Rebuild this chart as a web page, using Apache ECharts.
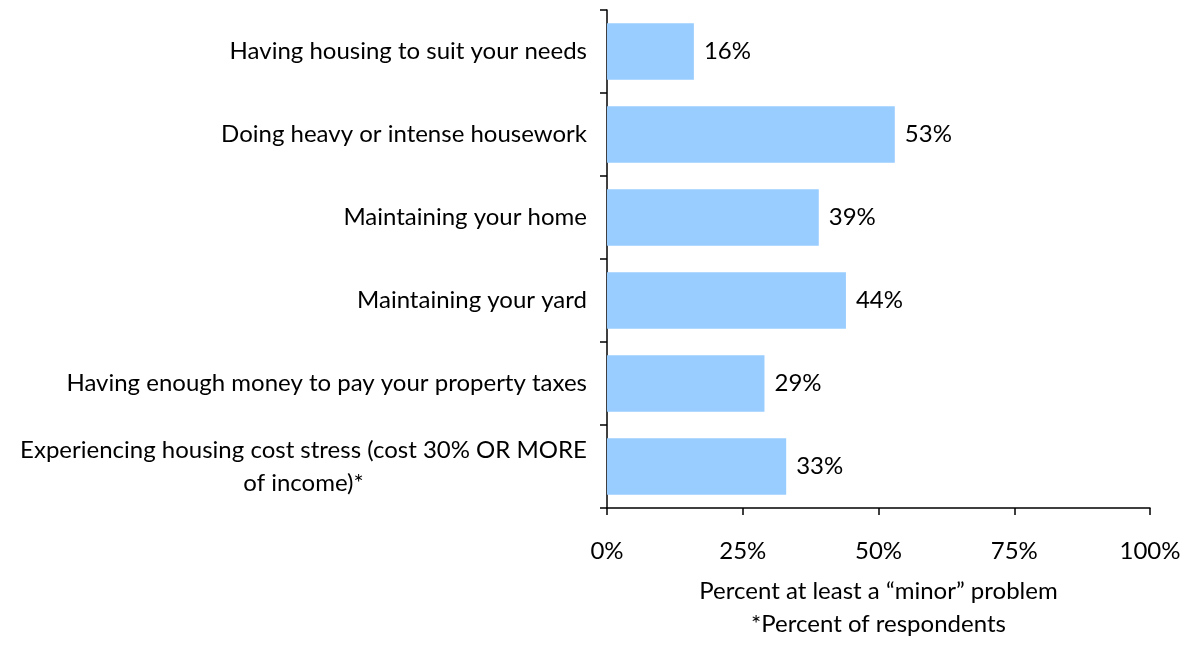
<!DOCTYPE html>
<html><head><meta charset="utf-8">
<script src="https://cdn.jsdelivr.net/npm/echarts@6/dist/echarts.min.js"></script>
<style>html,body{margin:0;padding:0;background:#fff}#c{width:1190px;height:646px}</style>
</head><body><div id="c"></div>
<script>
const categories = [
  "Having housing to suit your needs",
  "Doing heavy or intense housework",
  "Maintaining your home",
  "Maintaining your yard",
  "Having enough money to pay your property taxes",
  "Experiencing housing cost stress (cost 30% OR MORE\nof income)*"
];
const values = [16, 53, 39, 44, 29, 33];
const xTicks = [0, 25, 50, 75, 100];
const xName = "Percent at least a \u201cminor\u201d problem\n*Percent of respondents";

const FONT = "Lato";
const FS = 24;
function textWidth(t) {
  const cv = document.createElement('canvas').getContext('2d');
  cv.font = FS + 'px ' + FONT;
  return Math.ceil(cv.measureText(t).width);
}
const chart = echarts.init(document.getElementById('c'));
chart.setOption({
  animation: false,
  grid: {left: 607, right: 40, top: 10, bottom: 128, containLabel: false},
  xAxis: {
    type: 'value', min: 0, max: 100, interval: 25,
    axisLine: {show: true, lineStyle: {color: '#000', width: 1.5}},
    axisTick: {show: true, length: 7, lineStyle: {color: '#000', width: 1.5}},
    splitLine: {show: false},
    axisLabel: {formatter: v => xTicks.includes(v) ? v + '%' : '', color: '#000', fontSize: FS, fontFamily: FONT, margin: 31},
    name: xName, nameLocation: 'middle', nameGap: 67,
    nameTextStyle: {color: '#000', fontSize: FS, fontFamily: FONT, lineHeight: 33}
  },
  yAxis: {
    type: 'category', data: categories, inverse: true,
    axisLine: {show: true, lineStyle: {color: '#000', width: 1.5}},
    axisTick: {show: true, length: 7, lineStyle: {color: '#000', width: 1.5}},
    axisLabel: {
      color: '#000', fontSize: FS, fontFamily: FONT, margin: 20, lineHeight: 33,
      formatter: function (v) {
        if (v.indexOf('\n') >= 0) {
          const parts = v.split('\n');
          return parts.map(p => '{c|' + p + '}').join('\n');
        }
        return v;
      },
      rich: {c: {width: textWidth(categories[5].split('\n')[0]), align: 'center', fontSize: FS, fontFamily: FONT, color: '#000', lineHeight: 33}}
    }
  },
  series: [{
    type: 'bar', data: values, barCategoryGap: '32%',
    itemStyle: {color: '#99CCFF'},
    label: {show: true, position: 'right', distance: 10, formatter: '{c}%', color: '#000', fontSize: FS, fontFamily: FONT}
  }]
});
</script></body></html>
